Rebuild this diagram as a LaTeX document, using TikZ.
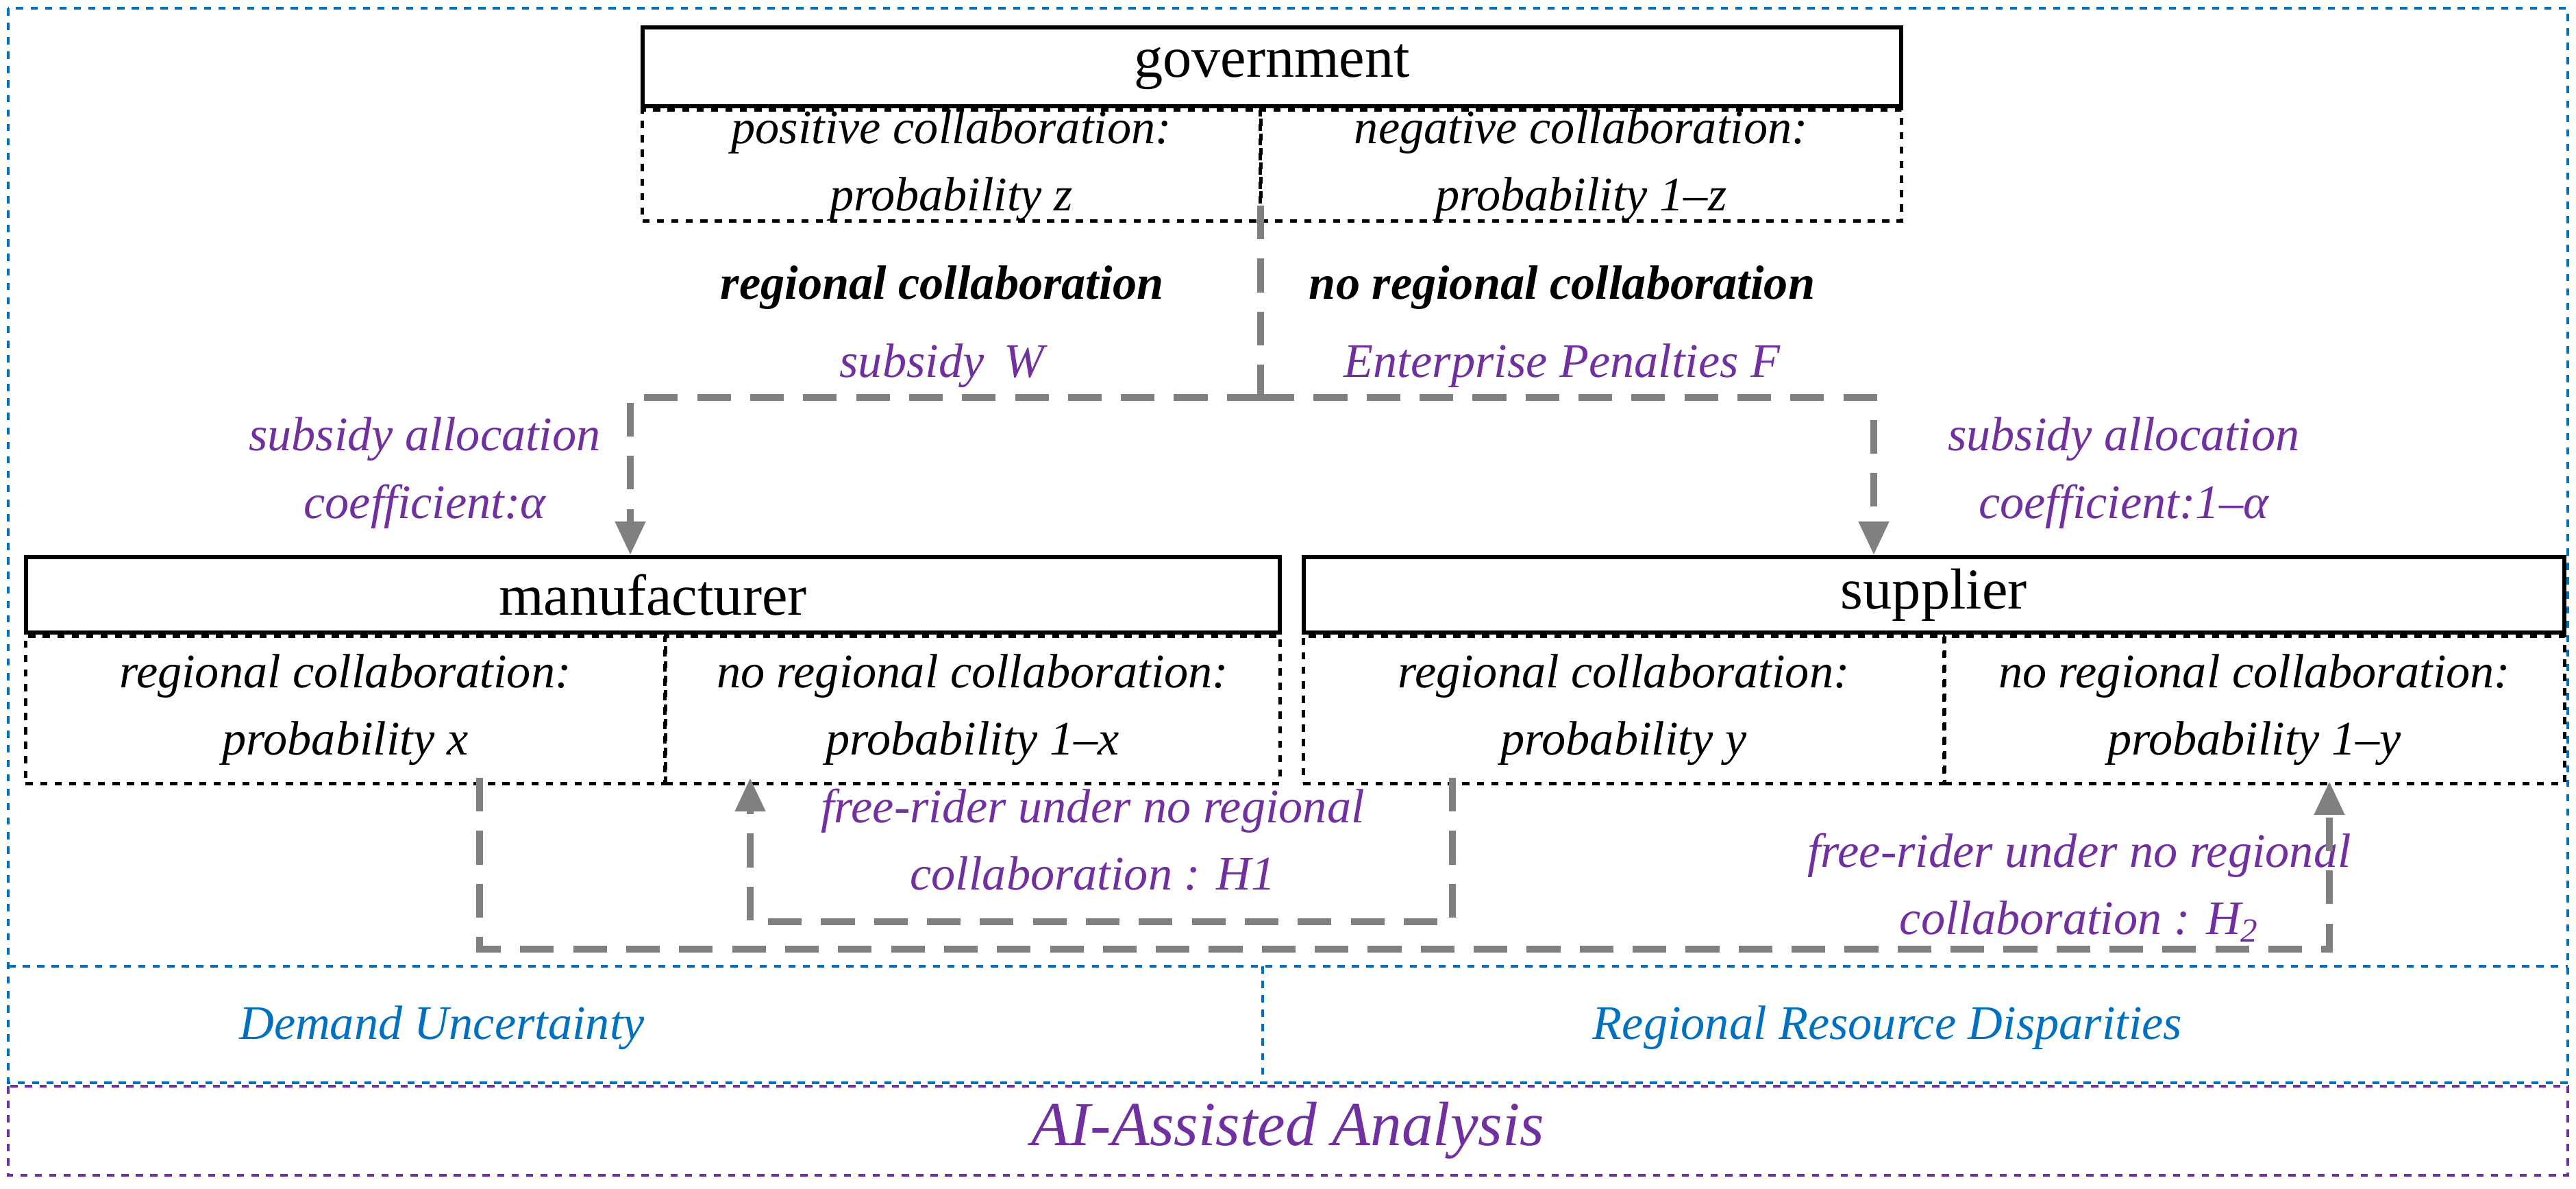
\documentclass[tikz,border=0pt]{standalone}
\usepackage{fontspec}
\setmainfont{Liberation Serif}
\usetikzlibrary{positioning,arrows.meta}
\definecolor{lblue}{RGB}{0,112,192}
\definecolor{lpurple}{RGB}{112,48,160}
\definecolor{lgray}{RGB}{128,128,128}
\tikzset{
  head/.style={draw, line width=1.6pt, inner sep=0pt, font=\fontsize{24}{28}\selectfont},
  cell/.style={draw, dashed, line width=1.4pt, inner sep=0pt, align=center, font=\fontsize{20}{28}\selectfont\itshape},
  flow/.style={draw=lgray, line width=3pt, dash pattern=on 14pt off 8pt, -{Triangle[length=14pt,width=12pt]}},
  note/.style={text=lpurple, align=center, font=\fontsize{20}{28}\selectfont\itshape},
  frame/.style={draw=lblue, dashed, line width=1.2pt}
}
\begin{document}
\begin{tikzpicture}[x=1cm,y=-1cm]
\useasboundingbox (0,0) rectangle (37.6,17.35);
% frames
\draw[frame] (0.12,0.12) rectangle (37.48,15.8);
\draw[frame] (0.12,14.1) -- (37.48,14.1);
\draw[frame] (18.43,14.1) -- (18.43,15.8);
\draw[draw=lpurple, dashed, line width=1.2pt] (0.12,15.85) rectangle (37.48,17.15);
\node[text=lblue, font=\fontsize{20}{24}\selectfont\itshape] (demand) at (6.45,15.0) {Demand Uncertainty};
\node[text=lblue, font=\fontsize{20}{24}\selectfont\itshape] (disp) at (27.55,15.0) {Regional Resource Disparities};
\node[text=lpurple, font=\fontsize{26}{30}\selectfont\itshape] (ai) at (18.8,16.5) {AI-Assisted Analysis};

% government
\node[head, minimum width=18.37cm, minimum height=1.15cm] (gov) at (18.565,0.975) {government};
\node[cell, minimum width=9.02cm, minimum height=1.45cm, anchor=north west] (govp) at (gov.south west) {positive collaboration:\\ probability \textit{z}};
\node[cell, minimum width=9.35cm, minimum height=1.45cm, anchor=north east] (govn) at (gov.south east) {negative collaboration:\\ probability 1--\textit{z}};
\node[font=\fontsize{20}{24}\selectfont\bfseries\itshape] (rc) at (13.75,4.2) {regional collaboration};
\node[note, below=0.25cm of rc.south, anchor=north] (sub) {subsidy\, W};
\node[font=\fontsize{20}{24}\selectfont\bfseries\itshape] (nrc) at (22.8,4.2) {no regional collaboration};
\node[note, below=0.25cm of nrc.south, anchor=north] (pen) {Enterprise Penalties F};

% manufacturer and supplier
\node[head, minimum width=18.3cm, minimum height=1.1cm, anchor=north west] (man) at (0.35,8.1) {manufacturer};
\node[cell, minimum width=9.33cm, minimum height=2.15cm, anchor=north west] (manr) at (man.south west) {regional collaboration:\\ probability \textit{x}};
\node[cell, minimum width=8.97cm, minimum height=2.15cm, anchor=north east] (mann) at (man.south east) {no regional collaboration:\\ probability 1--\textit{x}};
\node[head, minimum width=18.4cm, minimum height=1.1cm, anchor=north west] (sup) at (19.0,8.1) {supplier};
\node[cell, minimum width=9.35cm, minimum height=2.15cm, anchor=north west] (supr) at (sup.south west) {regional collaboration:\\ probability \textit{y}};
\node[cell, minimum width=9.05cm, minimum height=2.15cm, anchor=north east] (supn) at (sup.south east) {no regional collaboration:\\ probability 1--\textit{y}};

\node[note] (alpl) at (6.2,6.9) {subsidy allocation\\ coefficient:α};
\node[note] (alpr) at (31.0,6.9) {subsidy allocation\\ coefficient:1--α};
\node[note] (h1) at (15.95,12.25) {free-rider under no regional\\ collaboration : H1};
\node[note] (h2) at (30.35,12.95) {free-rider under no regional\\ collaboration : H\textsubscript{2}};

% connectors
\coordinate (split) at (18.4,3.0);
\coordinate (fork) at (18.4,5.8);
\draw[flow, -] (split) -- (fork);
\draw[flow] (fork) -| (man.north -| 9.2,0);
\draw[flow] (fork) -| (sup.north -| 27.35,0);
\coordinate (h1s) at (21.2,11.35);
\coordinate (h1e) at (10.95,11.35);
\draw[flow] (h1s) -- (21.2,13.45) -| (h1e);
\coordinate (h2s) at (7.0,11.35);
\coordinate (h2e) at (34.0,11.4);
\draw[flow] (h2s) -- (7.0,13.85) -| (h2e);
\end{tikzpicture}
\end{document}
